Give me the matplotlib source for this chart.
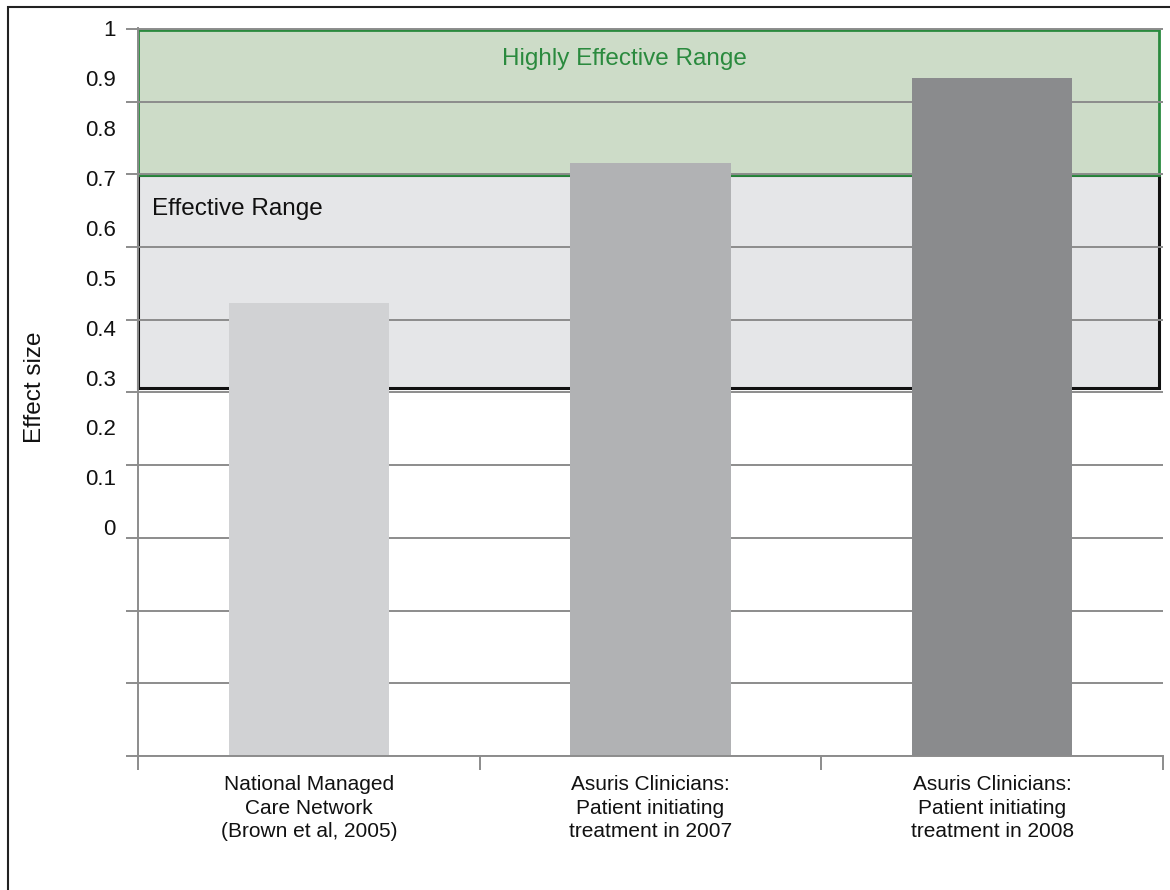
import numpy as np
import matplotlib.pyplot as plt
from matplotlib.patches import Rectangle
import matplotlib.transforms as mtransforms

plt.rcParams['font.family'] = ['Liberation Sans', 'DejaVu Sans']

# data
categories = ['National Managed\nCare Network\n(Brown et al, 2005)',
              'Asuris Clinicians:\nPatient initiating\ntreatment in 2007',
              'Asuris Clinicians:\nPatient initiating\ntreatment in 2008']
effect_sizes = [0.45, 0.73, 0.90]
bar_colors = ['#d1d2d4', '#b1b2b4', '#8a8b8d']
ytick_values = [0, 0.1, 0.2, 0.3, 0.4, 0.5, 0.6, 0.7, 0.8, 0.9, 1]
ytick_labels = ['0', '0.1', '0.2', '0.3', '0.4', '0.5', '0.6', '0.7', '0.8', '0.9', '1']
effective_range = (0.28, 0.705)
highly_effective_range = (0.705, 0.995)

fig = plt.figure(figsize=(11.7, 8.9), dpi=100)
W, H = 1170, 890
ax = fig.add_axes([138 / W, 1 - 756 / H, (1163 - 138) / W, (756 - 28) / H])

ymin, ymax = -0.458, 0.998
ax.set_ylim(ymin, ymax)
ax.set_xlim(-0.5, 2.5)

grid_col = '#8c8c8c'
text_col = '#111111'
# range boxes (axes x, data y)
trans = mtransforms.blended_transform_factory(ax.transAxes, ax.transData)
ax.add_patch(Rectangle((0.0, effective_range[0]), 0.996,
                       effective_range[1] - effective_range[0],
                       transform=trans, facecolor='#e5e6e8', edgecolor='#111111',
                       linewidth=2.2, zorder=0.2, clip_on=False))
ax.add_patch(Rectangle((0.0, highly_effective_range[0]), 0.996,
                       highly_effective_range[1] - highly_effective_range[0],
                       transform=trans, facecolor='#cddcc8', edgecolor='#2a8a3e',
                       linewidth=2.0, zorder=0.3, clip_on=False))

# bars start at the bottom of the plot area
x = np.arange(len(categories))
heights = np.array(effect_sizes) - ymin
ax.bar(x, heights, bottom=ymin, width=0.47, color=bar_colors, zorder=2)

ax.text(0.475, 0.958, 'Highly Effective Range', transform=ax.transAxes,
        ha='center', va='center', color='#2a8a3e', fontsize=17.5)
ax.text(0.014, 0.752, 'Effective Range', transform=ax.transAxes,
        ha='left', va='center', color=text_col, fontsize=17.5)

# gridlines and tick marks
grid_pos = np.linspace(ymin, ymax, 11)
ax.set_yticks(grid_pos)
ax.set_yticklabels([])
ax.tick_params(axis='y', which='major', length=9, width=1.4, color=grid_col)
ax.set_yticks(ytick_values, minor=True)
ax.set_yticklabels(ytick_labels, minor=True)
ax.tick_params(axis='y', which='minor', length=0, pad=16, labelsize=16, labelcolor=text_col)
ax.set_axisbelow(True)
ax.grid(axis='y', which='major', color=grid_col, linewidth=1.4)

ax.set_xticks([-0.5, 0.5, 1.5, 2.5])
ax.set_xticklabels([])
ax.tick_params(axis='x', which='major', length=10, width=1.4, color=grid_col)
ax.set_xticks(x, minor=True)
ax.set_xticklabels(categories, minor=True, linespacing=1.3)
ax.tick_params(axis='x', which='minor', length=0, pad=14, labelsize=15, labelcolor=text_col)

for s in ['top', 'right']:
    ax.spines[s].set_visible(False)
for s in ['left', 'bottom']:
    ax.spines[s].set_color(grid_col)
    ax.spines[s].set_linewidth(1.4)

fig.text(35 / W, 1 - 387 / H, 'Effect size', rotation=90, ha='center', va='center',
         fontsize=17.5, color=text_col)

# outer frame
fig.add_artist(Rectangle((8 / W, -0.2), 1.2, 1.2 - 7 / H, transform=fig.transFigure,
                         fill=False, edgecolor='#222222', linewidth=1.5))

fig.savefig('out.png', dpi=100)
